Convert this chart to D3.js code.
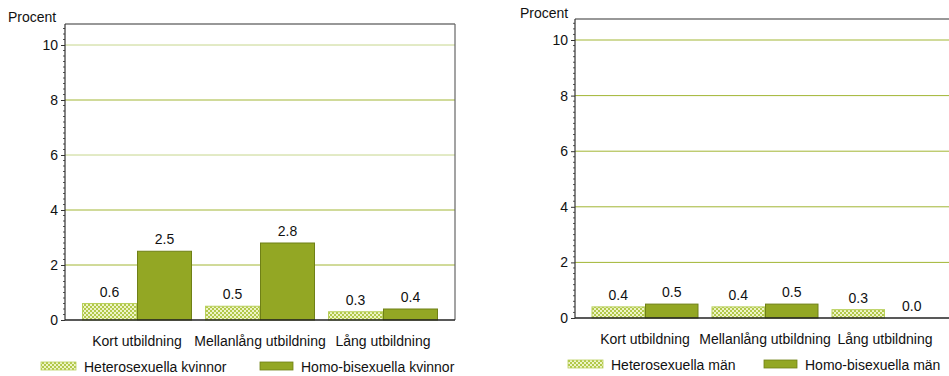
<!DOCTYPE html>
<html><head><meta charset="utf-8">
<script src="https://cdn.jsdelivr.net/npm/d3@7"></script>
<style>
body{margin:0;background:#fff;}
svg{display:block;font-family:"Liberation Sans",Arial,sans-serif;}
</style></head>
<body>
<svg id="chart" width="949" height="376"></svg>
<script>
const categories = ["Kort utbildning", "Mellanlång utbildning", "Lång utbildning"];
const heteroKvinnor = [0.6, 0.5, 0.3];
const homoKvinnor = [2.5, 2.8, 0.4];
const heteroMan = [0.4, 0.4, 0.3];
const homoMan = [0.5, 0.5, 0.0];
const yTicks = [0, 2, 4, 6, 8, 10];
const seriesLeft = ["Heterosexuella kvinnor", "Homo-bisexuella kvinnor"];
const seriesRight = ["Heterosexuella män", "Homo-bisexuella män"];
const yLabel = "Procent";

const FS = 14;
const svg = d3.select("#chart");
const defs = svg.append("defs");
const pat = defs.append("pattern").attr("id", "hatch").attr("patternUnits", "userSpaceOnUse")
  .attr("width", 4).attr("height", 4);
pat.append("rect").attr("width", 4).attr("height", 4).attr("fill", "#eef4c8");
pat.append("rect").attr("width", 2).attr("height", 2).attr("fill", "#b2c84a");
pat.append("rect").attr("x", 2).attr("y", 2).attr("width", 2).attr("height", 2).attr("fill", "#b2c84a");

const solidFill = "#93a724", solidStroke = "#6f8016";
const hatchStroke = "#b9d05c";

function drawChart(cfg) {
  const g = svg.append("g");
  const y = d3.scaleLinear().domain([0, 10]).range([cfg.base, cfg.y10]);
  const x0 = d3.scaleBand().domain(categories).range(cfg.bandRange)
    .paddingInner(cfg.padIn).paddingOuter(cfg.padOut);
  const x1 = d3.scaleBand().domain([0, 1]).range([0, x0.bandwidth()]);

  g.selectAll(".grid").data(yTicks.filter(d => d > 0)).join("line")
    .attr("x1", cfg.left).attr("x2", cfg.right)
    .attr("y1", d => y(d)).attr("y2", d => y(d))
    .attr("stroke", d => cfg.lightGrid.includes(d) ? "#c6d68c" : "#a2b634").attr("stroke-width", 1);

  g.append("line").attr("x1", cfg.left).attr("x2", cfg.right).attr("y1", cfg.top).attr("y2", cfg.top)
    .attr("stroke", "#333").attr("stroke-width", 1.2);
  if (cfg.right < 949) {
    g.append("line").attr("x1", cfg.right).attr("x2", cfg.right).attr("y1", cfg.top).attr("y2", cfg.base)
      .attr("stroke", "#666").attr("stroke-width", 1.2);
  }

  const seriesVals = [cfg.s0, cfg.s1];
  categories.forEach((c, i) => {
    [0, 1].forEach(s => {
      const v = seriesVals[s][i];
      const bx = x0(c) + x1(s);
      if (v > 0) {
        g.append("rect").attr("x", bx + 0.5).attr("y", y(v)).attr("width", x1.bandwidth() - 1)
          .attr("height", cfg.base - y(v))
          .attr("fill", s === 0 ? "url(#hatch)" : solidFill)
          .attr("stroke", s === 0 ? hatchStroke : solidStroke).attr("stroke-width", 1);
      }
      g.append("text").attr("x", bx + x1.bandwidth() / 2).attr("y", y(v) - 7)
        .attr("text-anchor", "middle").attr("font-size", FS).attr("fill", "#111")
        .text(d3.format(".1f")(v));
    });
  });

  const yAxis = d3.axisLeft(y).tickValues(yTicks).tickSize(4).tickPadding(3).tickFormat(d3.format("d"));
  const ya = g.append("g").attr("transform", `translate(${cfg.left},0)`).call(yAxis);
  ya.select(".domain").remove();
  ya.selectAll("text").attr("font-size", FS).attr("fill", "#111").attr("font-family", "Liberation Sans, Arial, sans-serif");
  ya.selectAll("line").attr("stroke", "#333");
  const minor = d3.range(0, 10.8, 0.2).filter(v => Math.abs(v - Math.round(v / 2) * 2) > 0.01);
  g.selectAll(".minor").data(minor).join("line")
    .attr("x1", cfg.left - 2).attr("x2", cfg.left).attr("y1", d => y(d)).attr("y2", d => y(d))
    .attr("stroke", "#555").attr("stroke-width", 1);
  g.append("line").attr("x1", cfg.left).attr("x2", cfg.left).attr("y1", cfg.top).attr("y2", cfg.base)
    .attr("stroke", "#333").attr("stroke-width", 1.2);
  g.append("line").attr("x1", cfg.left).attr("x2", cfg.right).attr("y1", cfg.base).attr("y2", cfg.base)
    .attr("stroke", "#222").attr("stroke-width", 1.5);

  g.append("text").attr("x", cfg.yLabelX).attr("y", cfg.yLabelY).attr("font-size", FS).attr("fill", "#111").text(yLabel);

  g.selectAll(".cat").data(categories).join("text")
    .attr("x", d => x0(d) + x0.bandwidth() / 2).attr("y", cfg.catY)
    .attr("text-anchor", "middle").attr("font-size", FS).attr("fill", "#111").text(d => d);

  cfg.legend.forEach((l, i) => {
    g.append("rect").attr("x", l.x).attr("y", cfg.legY - 10).attr("width", l.w).attr("height", 8)
      .attr("fill", i === 0 ? "url(#hatch)" : solidFill)
      .attr("stroke", i === 0 ? hatchStroke : solidStroke).attr("stroke-width", 0.8);
    g.append("text").attr("x", l.x + l.w + 8).attr("y", cfg.legY).attr("font-size", FS).attr("fill", "#111")
      .text(cfg.names[i]);
  });
}

drawChart({
  left: 65, right: 455, top: 24, base: 320, y10: 45,
  bandRange: [75.5, 444.5], padIn: 13 / 123, padOut: 6.5 / 123,
  s0: heteroKvinnor, s1: homoKvinnor, names: seriesLeft,
  lightGrid: [10, 6],
  yLabelX: 8, yLabelY: 22, catY: 346, legY: 346 + 26,
  legend: [{x: 41, w: 35}, {x: 260, w: 33}]
});
drawChart({
  left: 575, right: 965, top: 19, base: 318, y10: 40,
  bandRange: [585, 945], padIn: 13 / 120, padOut: 6.5 / 120,
  s0: heteroMan, s1: homoMan, names: seriesRight,
  lightGrid: [],
  yLabelX: 520, yLabelY: 18, catY: 344, legY: 344 + 26,
  legend: [{x: 568, w: 35}, {x: 764, w: 33}]
});
</script>
</body></html>
